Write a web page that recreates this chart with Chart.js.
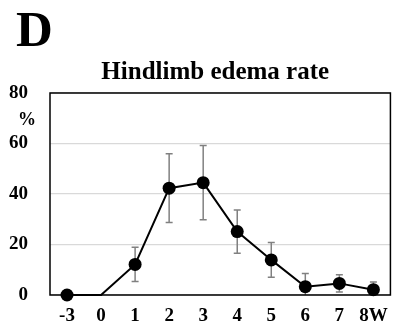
<!DOCTYPE html>
<html>
<head>
<meta charset="utf-8">
<script src="https://cdn.jsdelivr.net/npm/chart.js@4/dist/chart.umd.min.js"></script>
<style>
  html, body { margin: 0; padding: 0; background: #ffffff; }
  #wrap { width: 398px; height: 330px; position: relative; }
</style>
</head>
<body>
<div id="wrap"><canvas id="c" width="398" height="330"></canvas></div>
<script>
// Weeks relative to onset, and hindlimb edema rate (%) with its error (±)
const weeks = ['-3', '0', '1', '2', '3', '4', '5', '6', '7', '8W'];
const edemaRate = [0, 0, 12.1, 42.3, 44.5, 25.1, 13.9, 3.3, 4.6, 2.1];
const edemaError = [0, 0, 6.8, 13.6, 14.7, 8.6, 6.9, 5.2, 3.4, 3.0];
const yTicks = [0, 20, 40, 60, 80];

const panelLetter = 'D';
const chartTitle = 'Hindlimb edema rate';
const unitLabel = '%';

const serif = '"Liberation Serif", "Times New Roman", serif';

// Vertical error bars with caps, drawn beneath the markers
const errorBars = {
  id: 'errorBars',
  beforeDatasetsDraw(chart) {
    const { ctx, chartArea, scales: { x, y } } = chart;
    ctx.save();
    ctx.beginPath();
    ctx.rect(chartArea.left, chartArea.top, chartArea.right - chartArea.left, chartArea.bottom - chartArea.top);
    ctx.clip();
    ctx.strokeStyle = '#808080';
    ctx.lineWidth = 1.5;
    edemaRate.forEach((v, i) => {
      const e = edemaError[i];
      if (!e) return;
      const px = x.getPixelForValue(i);
      const top = y.getPixelForValue(v + e);
      const bot = y.getPixelForValue(v - e);
      ctx.beginPath();
      ctx.moveTo(px, top); ctx.lineTo(px, bot);
      ctx.moveTo(px - 3.5, top); ctx.lineTo(px + 3.5, top);
      ctx.moveTo(px - 3.5, bot); ctx.lineTo(px + 3.5, bot);
      ctx.stroke();
    });
    ctx.restore();
  }
};

// Plot frame, panel letter, title and unit label
const decorations = {
  id: 'decorations',
  beforeDatasetsDraw(chart) {
    const { ctx, chartArea } = chart;
    ctx.save();
    ctx.strokeStyle = '#000000';
    ctx.lineWidth = 1.5;
    ctx.strokeRect(chartArea.left, chartArea.top, chartArea.right - chartArea.left, chartArea.bottom - chartArea.top);
    ctx.restore();
  },
  afterDraw(chart) {
    const { ctx, chartArea, scales: { y } } = chart;
    ctx.save();
    ctx.fillStyle = '#000000';
    ctx.textBaseline = 'alphabetic';
    ctx.textAlign = 'left';
    ctx.font = 'bold 51px ' + serif;
    ctx.fillText(panelLetter, 16, 46);
    ctx.textAlign = 'center';
    ctx.font = 'bold 25px ' + serif;
    ctx.fillText(chartTitle, (chartArea.left + chartArea.right) / 2 - 5, 79);
    ctx.font = 'bold 18px ' + serif;
    ctx.textBaseline = 'middle';
    ctx.fillText(unitLabel, 27, (y.getPixelForValue(80) + y.getPixelForValue(60)) / 2 + 2);
    ctx.restore();
  }
};

new Chart(document.getElementById('c'), {
  type: 'line',
  data: {
    labels: weeks,
    datasets: [{
      data: edemaRate,
      borderColor: '#000000',
      backgroundColor: '#000000',
      borderWidth: 2,
      pointRadius: ctx => (weeks[ctx.dataIndex] === '0' ? 0 : 6.5),
      pointBackgroundColor: '#000000',
      pointBorderWidth: 0,
      tension: 0,
      clip: false
    }]
  },
  options: {
    responsive: false,
    animation: false,
    layout: { padding: { top: 93, right: 7, left: 0, bottom: 0 } },
    plugins: { legend: { display: false }, tooltip: { enabled: false }, title: { display: false } },
    scales: {
      x: {
        type: 'category',
        offset: true,
        afterFit: axis => { axis.height = 35; },
        grid: { display: false, drawTicks: false },
        border: { display: false },
        ticks: {
          color: '#000000',
          font: { family: serif, size: 19, weight: 'bold' },
          padding: 10,
          maxRotation: 0,
          autoSkip: false
        }
      },
      y: {
        min: 0,
        max: 80,
        afterBuildTicks: axis => { axis.ticks = yTicks.map(v => ({ value: v })); },
        afterFit: axis => { axis.width = 50; },
        grid: { color: '#d9d9d9', lineWidth: 1.2, drawTicks: false },
        border: { display: false },
        ticks: {
          color: '#000000',
          font: { family: serif, size: 19, weight: 'bold' },
          padding: 22
        }
      }
    }
  },
  plugins: [errorBars, decorations]
});
</script>
</body>
</html>
